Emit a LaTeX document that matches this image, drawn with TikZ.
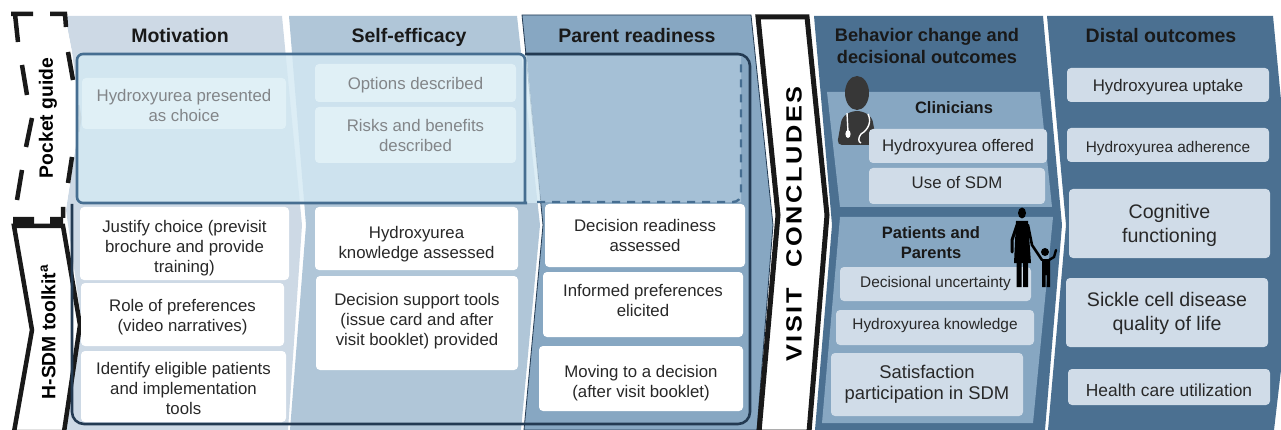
\documentclass[tikz,border=0pt]{standalone}
\usepackage{fontspec}
\setmainfont{Liberation Sans}
\newfontfamily\spaced[LetterSpace=10]{Liberation Sans}
\definecolor{colA}{RGB}{205,217,229}
\definecolor{colB}{RGB}{176,198,216}
\definecolor{colC}{RGB}{135,167,194}
\definecolor{colD}{RGB}{75,112,145}
\definecolor{paleBox}{RGB}{224,240,246}
\definecolor{midBox}{RGB}{208,220,232}
\definecolor{overlayFill}{RGB}{212,233,243}
\definecolor{readyFill}{RGB}{165,192,214}
\definecolor{frameBlue}{RGB}{70,110,145}
\definecolor{frameDark}{RGB}{35,58,82}
\definecolor{txt}{RGB}{40,40,40}
\definecolor{fade}{RGB}{130,133,136}
\definecolor{icon}{RGB}{55,55,55}
\newcommand{\panelbox}[7]{\node[#6,minimum width={(#4-(#2))*1pt},minimum height={(#5-(#3))*1pt}] (#1) at ({(#2+#4)/2},{(#3+#5)/2}) {#7};}
\newcommand{\tdn}[1]{\rule{0pt}{\dimexpr 0.75em+#1pt+#1pt\relax}}
\newcommand{\tup}[1]{\rule[\dimexpr -0.21em-#1pt-#1pt\relax]{0pt}{0pt}}
\tikzset{
  x=1pt,y=-1pt,
  base/.style={inner sep=0pt,align=center,rounded corners=4pt,text=txt},
  whitebox/.style={base,fill=white,font=\fontsize{16.8}{20}\selectfont},
  palebox/.style={base,fill=paleBox,text=fade,font=\fontsize{16.8}{20}\selectfont},
  darkbox/.style={base,fill=midBox,font=\fontsize{16.8}{20}\selectfont},
  smallbox/.style={darkbox,font=\fontsize{15.4}{18}\selectfont},
  bigbox/.style={darkbox,font=\fontsize{19.6}{24}\selectfont},
  head/.style={inner sep=0pt,align=center,anchor=base,text=black!90,font=\bfseries\fontsize{19.5}{23}\selectfont},
  subhead/.style={inner sep=0pt,align=center,text=black!90,font=\bfseries\fontsize{16.5}{20}\selectfont},
  side/.style={inner sep=0pt,rotate=90,text=black,font=\bfseries\fontsize{19.3}{22}\selectfont},
}
\begin{document}
\begin{tikzpicture}
\useasboundingbox (0,0) rectangle (1281,430);
% columns
\fill[colA] (65,16) -- (282,16) -- (302,225) -- (288,430) -- (66,430) -- (82,325) -- (66,210) -- (80,118) -- (72,52) -- cycle;
\fill[colB] (289,16) -- (517,16) -- (540,225) -- (521,430) -- (290,430) -- (306,225) -- cycle;
\fill[colC,draw=frameDark,line width=.8pt] (522,15) -- (751,15) -- (773,225) -- (757,430) -- (524,430) -- (543,225) -- cycle;
\fill[colD] (814,16) -- (1043,16) -- (1062,225) -- (1045,430) -- (815,430) -- (832,225) -- cycle;
\fill[colD] (1047,16) -- (1273,16) -- (1281,100) -- (1281,370) -- (1274,430) -- (1048,430) -- (1066,225) -- cycle;
% visit concludes
\draw[black!90,fill=white,line width=5pt,line join=miter] (758,17) -- (807,17) -- (827,215) -- (809,432) -- (759,432) -- (778,215) -- cycle;
% toolkit and pocket guide
\draw[black!90,fill=white,line width=4.5pt] (14,226) -- (63,226) -- (80,325) -- (64,432) -- (14,432) -- (32,330) -- cycle;
\fill[black!90] (13,217) rectangle (34,228) (50,217) rectangle (63,228);
\fill[white] (14,16) -- (65,16) -- (72,52) -- (80,118) -- (65,215) -- (15,215) -- (32,118) -- cycle;
\draw[black!90,line width=4.5pt] (11,14) -- (33,14) (50,14) -- (65,14) -- (66,27);
\draw[black!90,line width=4.5pt] (15,14) -- (18,42) (22,65) -- (27,95) (32,118) -- (26,147) (22,170) -- (17,200);
\draw[black!90,line width=4.5pt] (68,52) -- (73,80) (72,157) -- (68,183) (63,207) -- (63,218);
\draw[black!40,line width=3pt] (78,105) -- (80,118) -- (78,132);
% overlays
\fill[overlayFill,opacity=.82] (77,54) -- (527,54) -- (541,203) -- (77,203) -- cycle;
\fill[readyFill] (527,56) -- (741,56) -- (741,202) -- (541,202) -- cycle;
\draw[frameBlue,line width=2.6pt,rounded corners=6pt] (527,203) -- (77,203) -- (77,54) -- (525,54) -- (525,203);
\draw[frameBlue,line width=2.4pt,dash pattern=on 8pt off 7pt,rounded corners=8pt] (537,202) -- (741,202) -- (741,62);
\draw[frameDark,line width=2.6pt,rounded corners=12pt] (525,54) -- (750,54) -- (750,424) -- (72,424) -- (72,204);
% boxes
\panelbox{m1}{82}{78}{286}{129}{palebox}{\tdn{2}Hydroxyurea presented\\as choice}
\panelbox{m2}{80}{207}{289}{280}{whitebox}{\tdn{4}Justify choice (previsit\\brochure and provide\\training)}
\panelbox{m3}{81}{283}{284}{346}{whitebox}{\tdn{2}Role of preferences\\(video narratives)}
\panelbox{m4}{81}{351}{286}{422}{whitebox}{\tdn{2}Identify eligible patients\\and implementation\\tools}
\panelbox{s1}{315}{64}{516}{102}{palebox}{\tdn{2}Options described}
\panelbox{s2}{315}{107}{516}{163}{palebox}{Risks and benefits\\described}
\panelbox{s3}{315}{207}{518}{270}{whitebox}{\tdn{5}Hydroxyurea\\knowledge assessed}
\panelbox{s4}{316}{276}{518}{370}{whitebox}{Decision support tools\\(issue card and after\\visit booklet) provided\tup{2}}
\panelbox{p1}{545}{204}{745}{267}{whitebox}{Decision readiness\\assessed}
\panelbox{p2}{543}{272}{743}{337}{whitebox}{Informed preferences\\elicited\tup{2}}
\panelbox{p3}{539}{346}{743}{411}{whitebox}{\tdn{4}Moving to a decision\\(after visit booklet)}
% sub panels
\fill[colC] (827,92) -- (1040,92) -- (1052,207) -- (840,207) -- cycle;
\fill[colC] (840,217) -- (1053,217) -- (1033,423) -- (822,423) -- cycle;
% clinician icon
\fill[icon] (857,93) ellipse [x radius=12pt,y radius=17pt];
\fill[icon,rounded corners=5pt] (837,145) -- (842,117) -- (852,111) -- (862,111) -- (872,117) -- (877,145) -- cycle;
\draw[white,line width=1.4pt] (847,113) -- (848,132) (868,114) .. controls (872,122) and (868,130) .. (861,134) .. controls (858,138) and (858,142) .. (861,143);
\fill[white] (848,134) ellipse [x radius=2.6pt,y radius=4pt];
\panelbox{c1}{869}{129}{1047}{163}{darkbox}{\tdn{1}Hydroxyurea offered}
\panelbox{c2}{869}{168}{1045}{204}{darkbox}{Use of SDM\tup{2}}
\panelbox{b1}{840}{267}{1031}{301}{smallbox}{Decisional uncertainty}
\panelbox{b2}{836}{310}{1034}{345}{smallbox}{Hydroxyurea knowledge\tup{2}}
\panelbox{b3}{831}{353}{1023}{416}{darkbox,font=\fontsize{18.4}{21}\selectfont}{Satisfaction\\participation in SDM}
% parent and child icon
\fill[black] (1022,213) ellipse [x radius=4pt,y radius=5.5pt];
\fill[black] (1016,221) -- (1028,221) -- (1031,263) -- (1014,263) -- cycle;
\fill[black] (1016.5,263) rectangle (1021.5,287) (1023,263) rectangle (1028,287);
\draw[black,line width=3pt,line cap=round] (1017,225) -- (1012,240) -- (1012,252);
\draw[black,line width=2.6pt,line cap=round] (1028,225) -- (1032,245) -- (1042,260);
\fill[black] (1045,252) circle [radius=4pt];
\fill[black] (1042,259) rectangle (1050,275) (1042,275) rectangle (1045.5,287) (1046.5,275) rectangle (1050,287);
\draw[black,line width=2.4pt,line cap=round] (1049,260) -- (1054,257) -- (1056,250);
\panelbox{d1}{1067}{68}{1269}{102}{darkbox}{\tdn{2}Hydroxyurea uptake}
\panelbox{d2}{1067}{128}{1269}{162}{smallbox}{\tdn{3}Hydroxyurea adherence}
\panelbox{d3}{1069}{189}{1270}{258}{bigbox}{\tdn{2}Cognitive\\functioning}
\panelbox{d4}{1066}{278}{1268}{347}{bigbox}{\tdn{1}Sickle cell disease\\quality of life}
\panelbox{d5}{1068}{369}{1270}{405}{darkbox,font=\fontsize{17.4}{20}\selectfont}{\tdn{3}Health care utilization}
% headings
\node[head] (h1) at (180,43) {Motivation};
\node[head] (h2) at (409,43) {Self-efficacy};
\node[head] (h3) at (637,43) {Parent readiness};
\node[subhead,font=\bfseries\fontsize{18.2}{22}\selectfont] (h4) at (927,46) {Behavior change and\\decisional outcomes};
\node[head] (h5) at (1161,43) {Distal outcomes};
\node[subhead] (h6) at (954,108) {Clinicians};
\node[subhead] (h7) at (931,243) {Patients and\\Parents};
\node[side] (l1) at (48,118) {Pocket guide};
\node[side] (l2) at (48,332) {H-SDM toolkit\textsuperscript{a}};
\node[side,font=\spaced\bfseries\fontsize{22}{24}\selectfont] (l3) at (794,224) {\scalebox{1.15}[1]{VISIT\hspace{10pt} CONCLUDES}};
\end{tikzpicture}
\end{document}
